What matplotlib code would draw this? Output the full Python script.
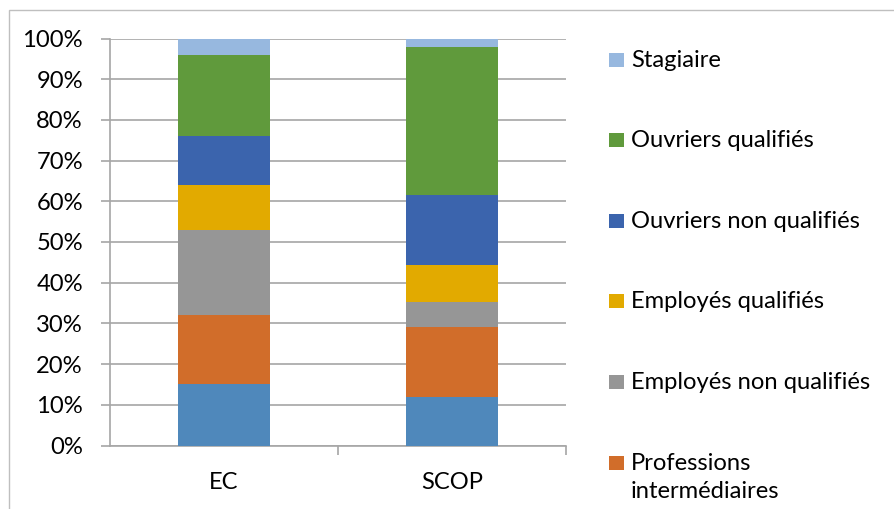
import matplotlib
matplotlib.use("Agg")
import matplotlib.pyplot as plt
from matplotlib.patches import Rectangle

categories = ["EC", "SCOP"]
series_names = ["Cadres", "Professions\nintermédiaires", "Employés non qualifiés",
                "Employés qualifiés", "Ouvriers non qualifiés", "Ouvriers qualifiés", "Stagiaire"]
ec_values = [15, 17, 21, 11, 12, 20, 4]
scop_values = [12, 17.2, 6.1, 9.0, 17.2, 36.5, 2.0]
colors = ["#4F88BB", "#D16D2A", "#969696", "#E2AA00", "#3B64AD", "#609A3C", "#97B8DF"]
ytick_labels = ["0%", "10%", "20%", "30%", "40%", "50%", "60%", "70%", "80%", "90%", "100%"]

FONT = "Lato"
FS = 17.1
PX = 100 / 72.0  # pixels per point

W, H = 894, 509
fig = plt.figure(figsize=(W / 100, H / 100), dpi=100)
fig.patch.set_facecolor("white")
# outer chart border (only left/top visible within the image)
fig.add_artist(Rectangle((8.5 / W, -0.2), 1.2, 1.2 - 9.5 / H, transform=fig.transFigure,
                         fill=False, edgecolor="#BFBFBF", linewidth=1))

ax = fig.add_axes([110 / W, 1 - 445.5 / H, (566 - 110) / W, (445.5 - 38.5) / H])
x = range(len(categories))
bottoms = [0.0, 0.0]
for i, name in enumerate(series_names):
    vals = [ec_values[i], scop_values[i]]
    ax.bar(x, vals, width=0.4, bottom=bottoms, color=colors[i], zorder=3,
           edgecolor="none")
    bottoms = [b + v for b, v in zip(bottoms, vals)]

ax.set_xlim(-0.5, 1.5)
ax.set_ylim(0, 100)
ax.set_yticks(range(0, 101, 10))
ax.set_yticklabels(ytick_labels, fontfamily=FONT, fontsize=FS)
ax.set_xticks([0, 1])
ax.set_xticklabels(categories, fontfamily=FONT, fontsize=FS)
ax.tick_params(axis="x", length=0, pad=19)
ax.tick_params(axis="y", length=9 / PX, color="#A6A6A6", width=1.2, pad=13)
ax.set_xticks([0.5, 1.5], minor=True)
ax.tick_params(axis="x", which="minor", length=9 / PX, color="#A6A6A6", width=1.2)
ax.yaxis.grid(True, color="#A6A6A6", linewidth=1.2, zorder=0)
for s in ["top", "right"]:
    ax.spines[s].set_visible(False)
for s in ["left", "bottom"]:
    ax.spines[s].set_color("#A6A6A6")
    ax.spines[s].set_linewidth(1.2)

# legend (reversed order, manually laid out; entries below the image edge are cut off,
# as in the reference)
first_center = 59.7
step = 80.56
for k, i in enumerate(reversed(range(len(series_names)))):
    yc = first_center + k * step
    if yc > H:
        continue
    fig.add_artist(Rectangle((609 / W, 1 - (yc + 7) / H), 15 / W, 14 / H,
                             transform=fig.transFigure, facecolor=colors[i],
                             edgecolor="none"))
    for j, line in enumerate(series_names[i].split("\n")):
        fig.text(631 / W, 1 - (yc + 7 + 28 * j) / H, line, fontfamily=FONT,
                 fontsize=FS, va="baseline", ha="left")

fig.savefig("out.png", dpi=100)
